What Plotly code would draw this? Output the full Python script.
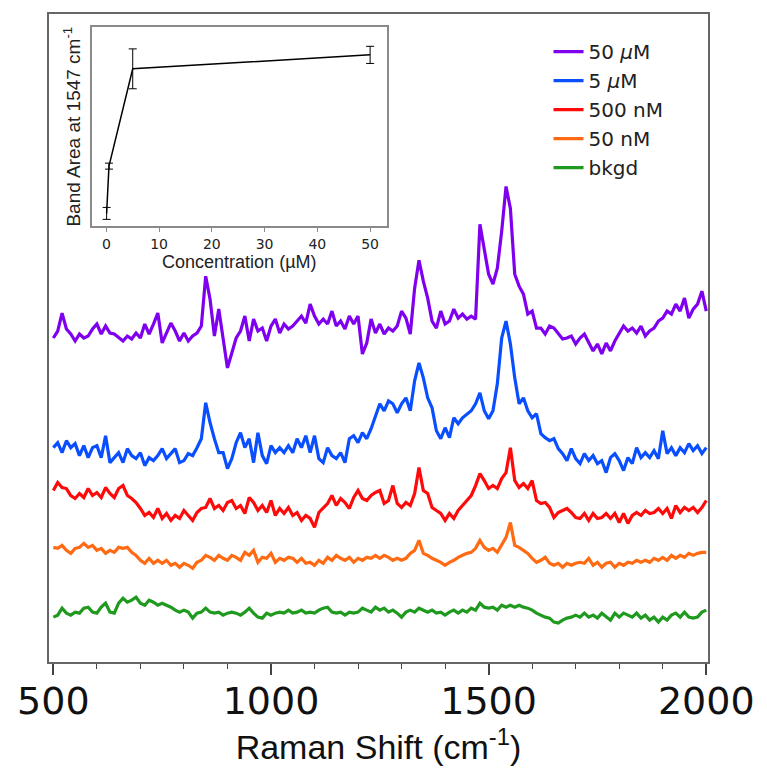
import numpy as np
import plotly.graph_objects as go

# ---------------- data ----------------
wavenumber = np.arange(500, 2001, 10)

purple_50uM = [
    325, 332, 350, 334, 329, 322, 329, 325, 327, 334,
    339, 329, 337, 330, 329, 325, 322, 327, 324, 330,
    325, 339, 329, 339, 350, 320, 330, 340, 332, 322,
    330, 322, 327, 330, 337, 387, 364, 327, 354, 325,
    295, 310, 325, 332, 347, 322, 344, 332, 335, 322,
    337, 344, 330, 339, 334, 337, 342, 347, 340, 359,
    347, 339, 344, 339, 352, 337, 342, 334, 347, 339,
    347, 309, 320, 344, 330, 339, 329, 335, 332, 337,
    352, 345, 329, 375, 403, 382, 365, 342, 335, 352,
    339, 342, 354, 345, 349, 344, 347, 344, 439, 415,
    389, 379, 395, 432, 477, 455, 389, 377, 369, 349,
    352, 335, 335, 329, 337, 335, 329, 324, 325, 327,
    319, 325, 329, 320, 312, 319, 309, 320, 312, 322,
    329, 337, 332, 335, 330, 337, 327, 332, 335, 342,
    345, 352, 349, 359, 352, 365, 345, 354, 359, 372,
    352]

blue_5uM = [
    215, 220, 210, 222, 215, 219, 207, 217, 205, 215,
    217, 205, 227, 200, 205, 210, 200, 214, 207, 204,
    210, 197, 205, 202, 207, 214, 204, 209, 214, 200,
    202, 209, 207, 215, 224, 260, 240, 224, 210, 210,
    194, 204, 220, 230, 215, 224, 200, 230, 207, 199,
    217, 210, 215, 210, 217, 210, 224, 215, 227, 210,
    227, 204, 200, 215, 207, 204, 210, 200, 224, 227,
    220, 230, 224, 234, 247, 259, 252, 262, 259, 250,
    259, 265, 252, 282, 300, 285, 265, 255, 232, 224,
    235, 225, 245, 239, 245, 249, 252, 259, 270, 252,
    244, 252, 279, 325, 342, 319, 285, 259, 265, 252,
    245, 249, 229, 225, 222, 224, 214, 209, 202, 214,
    204, 199, 209, 202, 207, 199, 202, 190, 205, 209,
    202, 192, 205, 199, 215, 205, 210, 205, 212, 204,
    232, 209, 215, 207, 215, 210, 219, 212, 217, 209,
    215]

red_500nM = [
    172, 180, 175, 174, 167, 164, 169, 165, 174, 167,
    170, 165, 175, 169, 165, 174, 177, 167, 164, 160,
    154, 147, 150, 145, 154, 144, 149, 142, 147, 144,
    152, 147, 142, 150, 154, 155, 164, 154, 157, 152,
    160, 162, 154, 157, 149, 165, 160, 152, 157, 150,
    162, 147, 154, 149, 155, 147, 150, 142, 147, 144,
    135, 150, 154, 159, 167, 157, 164, 160, 154, 165,
    172, 164, 162, 167, 170, 172, 159, 162, 177, 159,
    155, 160, 157, 169, 195, 172, 169, 155, 152, 149,
    142, 149, 144, 152, 157, 162, 167, 177, 189, 182,
    174, 177, 174, 184, 190, 215, 182, 175, 179, 174,
    182, 162, 159, 160, 155, 145, 150, 152, 154, 150,
    145, 144, 149, 142, 149, 144, 145, 149, 144, 149,
    140, 149, 139, 147, 150, 147, 152, 149, 150, 154,
    149, 154, 144, 157, 150, 155, 152, 155, 150, 155,
    162]

orange_50nM = [
    115, 114, 117, 112, 109, 114, 115, 119, 115, 117,
    112, 114, 109, 112, 110, 115, 114, 115, 110, 107,
    102, 99, 104, 99, 102, 99, 102, 97, 99, 95,
    99, 97, 94, 100, 102, 107, 105, 102, 107, 104,
    102, 107, 105, 102, 110, 107, 112, 100, 105, 104,
    109, 100, 104, 102, 105, 104, 100, 104, 99, 100,
    97, 102, 99, 105, 102, 107, 104, 102, 105, 100,
    104, 102, 105, 104, 107, 104, 107, 105, 102, 104,
    102, 104, 109, 112, 122, 109, 107, 104, 102, 100,
    97, 100, 102, 105, 107, 109, 110, 114, 122, 115,
    112, 114, 110, 117, 125, 140, 117, 115, 112, 109,
    104, 100, 102, 105, 99, 97, 99, 95, 99, 97,
    99, 100, 99, 104, 97, 100, 95, 99, 100, 95,
    99, 97, 100, 99, 102, 100, 102, 100, 104, 102,
    105, 102, 107, 104, 107, 105, 109, 107, 109, 110,
    110]

green_bkgd = [
    45, 47, 54, 49, 47, 50, 49, 54, 55, 50,
    49, 55, 59, 50, 49, 59, 64, 60, 62, 65,
    59, 57, 62, 60, 57, 59, 57, 55, 52, 50,
    52, 50, 44, 49, 50, 54, 50, 49, 50, 47,
    49, 50, 49, 47, 50, 54, 49, 45, 44, 49,
    47, 49, 50, 49, 52, 49, 50, 52, 49, 50,
    49, 52, 54, 55, 50, 49, 50, 47, 50, 49,
    50, 54, 52, 50, 55, 52, 54, 50, 52, 49,
    45, 50, 52, 50, 54, 52, 50, 52, 49, 50,
    47, 50, 52, 49, 52, 50, 54, 52, 59, 55,
    54, 55, 52, 57, 55, 57, 55, 57, 55, 54,
    52, 49, 47, 45, 44, 40, 39, 42, 44, 45,
    47, 45, 49, 45, 47, 44, 49, 45, 42, 49,
    45, 49, 47, 45, 49, 44, 47, 42, 45, 40,
    45, 42, 47, 49, 45, 50, 45, 44, 45, 50,
    52]

series_names = ["50 <i>μ</i>M", "5 <i>μ</i>M", "500 nM", "50 nM", "bkgd"]
series_colors = ["#7F00EE", "#0A4FFF", "#FF0A0A", "#FF6A12", "#1F9A1F"]
series_values = [purple_50uM, blue_5uM, red_500nM, orange_50nM, green_bkgd]

# inset data
inset_conc = [0.05, 0.5, 5, 50]
inset_area = [6.5, 30.2, 79, 86]
inset_err = [3, 1.5, 10, 4.3]
inset_ticks = [0, 10, 20, 30, 40, 50]
main_ticks = [500, 1000, 1500, 2000]

for s in series_values:
    assert len(s) == len(wavenumber)

# ---------------- figure ----------------
fig = go.Figure()
for name, col, vals in zip(series_names, series_colors, series_values):
    fig.add_trace(go.Scatter(x=wavenumber, y=vals, mode="lines", name=name,
                             line=dict(color=col, width=3.2), xaxis="x", yaxis="y"))

fig.add_trace(go.Scatter(x=inset_conc, y=inset_area, mode="lines", showlegend=False,
                         line=dict(color="black", width=1.5),
                         error_y=dict(type="data", array=inset_err, color="black",
                                      thickness=1, width=4),
                         xaxis="x2", yaxis="y2"))

frame_col = "#666666"
fig.update_layout(
    width=767, height=777,
    margin=dict(l=49, r=57, t=12, b=115),
    paper_bgcolor="white", plot_bgcolor="white",
    showlegend=True,
    legend=dict(x=0.758, y=0.972, xanchor="left", yanchor="top",
                bgcolor="rgba(0,0,0,0)", font=dict(family="DejaVu Sans", size=20, color="#222"),
                tracegroupgap=0),
    xaxis=dict(domain=[0, 1], range=[490, 2004], showgrid=False, zeroline=False,
               showline=True, linecolor=frame_col, linewidth=2, mirror=True,
               ticks="outside", ticklen=11, tickwidth=1.5, tickcolor="#444",
               tickvals=main_ticks, ticktext=[str(t) for t in main_ticks],
               ticklabelstandoff=-7,
               tickfont=dict(family="DejaVu Sans", size=38, color="#111"),
               minor=dict(dtick=100, tick0=500, ticks="outside", ticklen=5, tickwidth=1.2,
                          tickcolor="#444", showgrid=False),
               title=dict(text="Raman Shift (cm<sup>-1</sup>)", standoff=6,
                          font=dict(family="Liberation Sans", size=34, color="#111"))),
    yaxis=dict(domain=[0, 1], range=[0, 650], showgrid=False, zeroline=False,
               showline=True, linecolor=frame_col, linewidth=2, mirror=True,
               showticklabels=False, ticks=""),
    xaxis2=dict(domain=[0.0646, 0.5129], range=[-2.8, 53.2], anchor="y2",
                showgrid=False, zeroline=False, showline=True, linecolor="#8a8a8a",
                linewidth=1.5, mirror=True, ticks="outside", ticklen=4, tickcolor="#8a8a8a",
                tickvals=inset_ticks, tickfont=dict(family="DejaVu Sans", size=14, color="#222"),
                title=dict(text="Concentration (µM)", standoff=2,
                           font=dict(family="Liberation Sans", size=18, color="#222"))),
    yaxis2=dict(domain=[0.6723, 0.98], range=[0, 100], anchor="x2",
                showgrid=False, zeroline=False, showline=True, linecolor="#8a8a8a",
                linewidth=1.5, mirror=True, showticklabels=False, ticks="",
                title=dict(text="Band Area at 1547 cm<sup>-1</sup>", standoff=4,
                           font=dict(family="Liberation Sans", size=19, color="#222"))),
)

fig.write_html("out.html")
